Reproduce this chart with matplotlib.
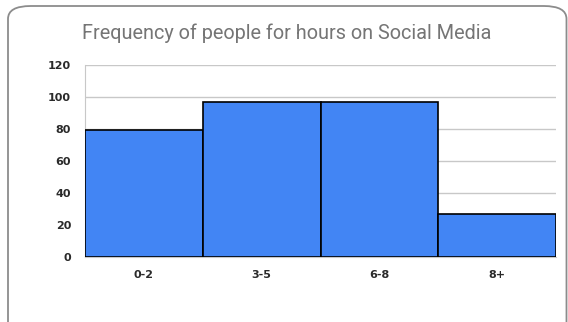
import matplotlib.pyplot as plt
from matplotlib.patches import FancyBboxPatch

categories = ['0-2', '3-5', '6-8', '8+']
counts = [79, 97, 97, 27]
yticks = [0, 20, 40, 60, 80, 100, 120]

W, H = 568, 322
fig = plt.figure(figsize=(W / 100, H / 100), dpi=100)
fig.patch.set_facecolor('white')

# rounded card outline around the chart
card = FancyBboxPatch((8 / W, -0.2), (558.5 / W), 1.2 - 6 / H,
                      boxstyle='round,pad=0,rounding_size=0.04',
                      transform=fig.transFigure, facecolor='white',
                      edgecolor='#8c8c8c', linewidth=1.3, zorder=-1)
fig.patches.append(card)

ax = fig.add_axes([85 / W, 1 - 256.7 / H, (556 - 85) / W, (256.7 - 65) / H])
ax.set_facecolor('none')
ax.set_zorder(2)

x = range(len(categories))
ax.bar(x, counts, width=1.0, color='#4285f4', edgecolor='black', linewidth=1.2, zorder=3)

ax.set_xlim(-0.5, len(categories) - 0.5)
ax.set_ylim(0, 120)
ax.set_yticks(yticks)
ax.set_xticks(list(x))
ax.set_xticklabels(categories)
ax.grid(axis='y', color='#c8c8c8', linewidth=1.0, zorder=0)
ax.tick_params(length=0, labelsize=8, colors='#2a2a2a')
ax.tick_params(axis='y', pad=10)
ax.tick_params(axis='x', pad=9.5)
for lab in ax.get_xticklabels() + ax.get_yticklabels():
    lab.set_fontweight('bold')
    lab.set_family('DejaVu Sans')

for side in ['top', 'right']:
    ax.spines[side].set_visible(False)
ax.spines['left'].set_color('#c8c8c8')
ax.spines['bottom'].set_color('#c8c8c8')

fig.text(287 / W, 1 - 33 / H, 'Frequency of people for hours on Social Media',
         ha='center', va='center', fontsize=14.3, color='#757575', family='Roboto',
         zorder=5)

fig.savefig('out.png', dpi=100)
